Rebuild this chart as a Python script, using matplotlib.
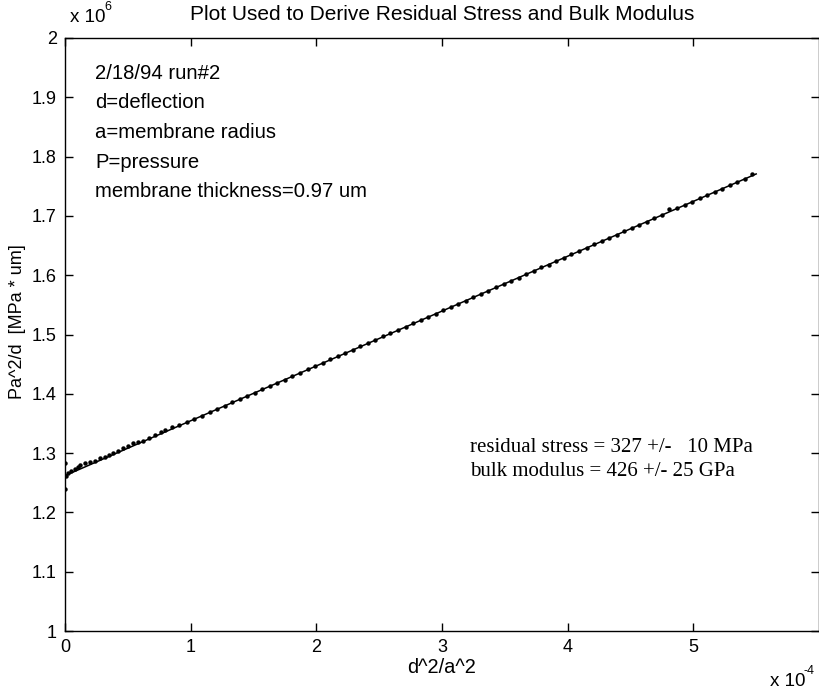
import numpy as np
import matplotlib.pyplot as plt

# data in plot units: x in 1e-4, y in 1e6
x_start = [0.0, 0.0, 0.01, 0.026, 0.05, 0.08, 0.10, 0.119, 0.159, 0.199, 0.239, 0.278, 0.318,
           0.35, 0.385, 0.42, 0.464, 0.50, 0.544, 0.58, 0.623, 0.67, 0.716, 0.76, 0.796, 0.849]
y_start = [1.239, 1.283, 1.261, 1.266, 1.270, 1.274, 1.277, 1.280, 1.284, 1.285, 1.287, 1.291, 1.294,
           1.297, 1.300, 1.304, 1.308, 1.312, 1.317, 1.319, 1.321, 1.326, 1.331, 1.335, 1.339, 1.344]

x_main = [0.91, 0.97, 1.03, 1.09, 1.15, 1.21, 1.27, 1.33, 1.39, 1.45, 1.51, 1.57, 1.63, 1.69,
          1.75, 1.81, 1.87, 1.93, 1.99, 2.05, 2.11, 2.17, 2.23, 2.29, 2.35, 2.41, 2.47, 2.53,
          2.59, 2.65, 2.71, 2.77, 2.83, 2.89, 2.95, 3.01, 3.07, 3.13, 3.19, 3.25, 3.31, 3.37,
          3.43, 3.49, 3.55, 3.61, 3.67, 3.73, 3.79, 3.85, 3.91, 3.97, 4.03, 4.09, 4.15, 4.21,
          4.27, 4.33, 4.39, 4.45, 4.51, 4.57, 4.63, 4.69, 4.75, 4.81, 4.87, 4.93, 4.99, 5.05,
          5.11, 5.17, 5.23, 5.29, 5.35, 5.41, 5.47]
y_main = [1.347, 1.352, 1.358, 1.363, 1.369, 1.374, 1.380, 1.386, 1.391, 1.397, 1.402, 1.408,
          1.413, 1.419, 1.424, 1.430, 1.435, 1.441, 1.447, 1.452, 1.458, 1.463, 1.469, 1.474,
          1.480, 1.485, 1.491, 1.497, 1.502, 1.508, 1.513, 1.519, 1.524, 1.530, 1.535, 1.541,
          1.547, 1.552, 1.557, 1.563, 1.568, 1.574, 1.580, 1.585, 1.591, 1.596, 1.602, 1.607,
          1.613, 1.618, 1.624, 1.629, 1.635, 1.641, 1.646, 1.652, 1.657, 1.663, 1.668, 1.674,
          1.679, 1.685, 1.690, 1.696, 1.701, 1.712, 1.713, 1.718, 1.724, 1.730, 1.735, 1.741,
          1.746, 1.752, 1.757, 1.763, 1.770]

# fitted line (intercept, slope) and its x range
fit_intercept = 1.262
fit_slope = 0.0925
fit_range = [0.0, 5.5]

notes = ["2/18/94 run#2", "d=deflection", "a=membrane radius", "P=pressure",
         "membrane thickness=0.97 um"]
results = ["residual stress = 327 +/-   10 MPa", "bulk modulus = 426 +/- 25 GPa"]

plt.rcParams['font.family'] = ['Liberation Sans', 'DejaVu Sans']

fig = plt.figure(figsize=(8.2, 6.92), dpi=100)
ax = fig.add_axes([65 / 820, 1 - 631 / 692, 754 / 820, 593 / 692])

xs = np.array(x_start + x_main)
ys = np.array(y_start + y_main)
ax.plot(xs, ys, 'o', color='black', markersize=3.2, markeredgewidth=0)
fx = np.array(fit_range)
ax.plot(fx, fit_intercept + fit_slope * fx, '-', color='black', linewidth=1.1)

ax.set_xlim(0, 6)
ax.set_ylim(1, 2)
ax.set_xticks([0, 1, 2, 3, 4, 5])
ax.set_xticklabels(['0', '1', '2', '3', '4', '5'])
ax.set_yticks([1, 1.1, 1.2, 1.3, 1.4, 1.5, 1.6, 1.7, 1.8, 1.9, 2])
ax.set_yticklabels(['1', '1.1', '1.2', '1.3', '1.4', '1.5', '1.6', '1.7', '1.8', '1.9', '2'])
ax.tick_params(direction='in', top=True, right=True, length=6, width=1, labelsize=13, pad=6)
for s in ax.spines.values():
    s.set_linewidth(1.0)

ax.set_title("Plot Used to Derive Residual Stress and Bulk Modulus", fontsize=15, pad=13)
ax.set_xlabel("d^2/a^2", fontsize=14.4, labelpad=1)
ax.set_ylabel("Pa^2/d  [MPa * um]", fontsize=13)
ax.yaxis.set_label_coords(-0.052, 0.521)

# scale factors written the way the original shows them
fig.text(70 / 820, 1 - 22 / 692, "x 10", fontsize=13.5, ha='left', va='baseline')
fig.text(104 / 820, 1 - 29 / 692 + 0.028, "6", fontsize=9, ha='left', va='baseline')
fig.text(770 / 820, 1 - 686 / 692, "x 10", fontsize=13.5, ha='left', va='baseline')
fig.text(804 / 820, 1 - 686 / 692 + 0.017, "-4", fontsize=9, ha='left', va='baseline')

for i, t in enumerate(notes):
    ax.text(95 / 820, 1 - (79 + 29.5 * i) / 692, t, transform=fig.transFigure,
            fontsize=14.6, ha='left', va='baseline')

for i, t in enumerate(results):
    ax.text(470 / 820, 1 - (452 + 24 * i) / 692, t, transform=fig.transFigure,
            fontsize=15, ha='left', va='baseline', family=['Liberation Serif', 'DejaVu Serif'])

fig.savefig("out.png", dpi=100)
